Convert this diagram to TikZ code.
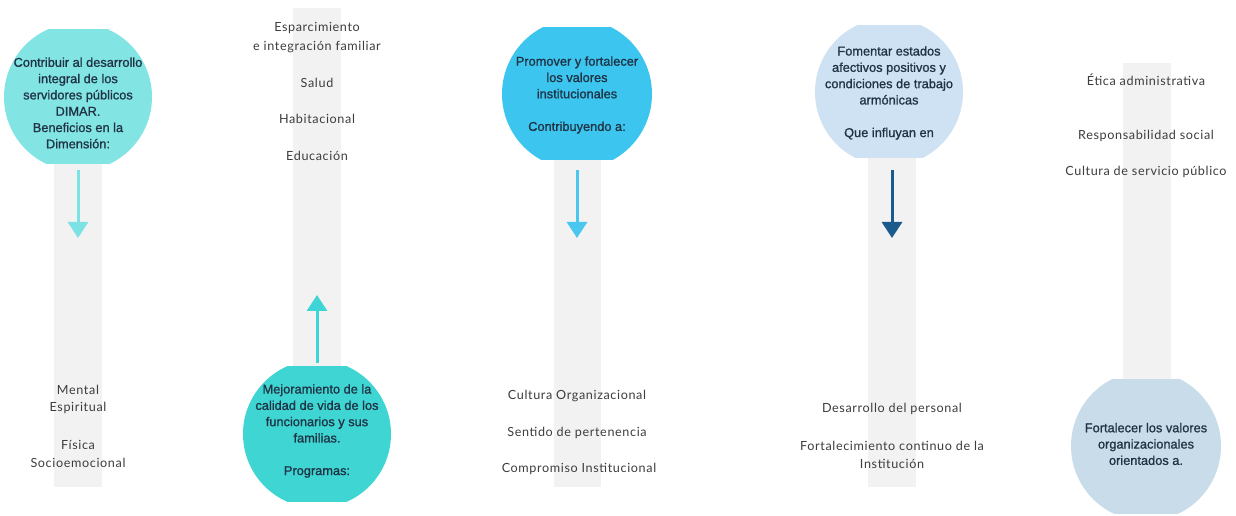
\documentclass[tikz,border=0pt]{standalone}
\usepackage{fontspec}
\usetikzlibrary{arrows.meta}
\newfontfamily\circfont[FakeBold=1]{Liberation Sans}
\newfontfamily\labfont[LetterSpace=5]{Lato}
\definecolor{cA}{HTML}{83E4E4}
\definecolor{cB}{HTML}{3ED5D3}
\definecolor{cC}{HTML}{3CC5EF}
\definecolor{cD}{HTML}{CFE2F3}
\definecolor{cE}{HTML}{C9DCEA}
\definecolor{stripgray}{HTML}{F2F2F2}
\definecolor{ctext}{HTML}{1F3344}
\definecolor{ltext}{HTML}{3D3D3D}
\definecolor{arA}{HTML}{7DE2E4}
\definecolor{arB}{HTML}{3DD5D5}
\definecolor{arC}{HTML}{4AC7EF}
\definecolor{arD}{HTML}{1B5A8C}
\tikzset{
  circtext/.style={align=center, text=ctext, font=\circfont\fontsize{12.8bp}{16.3bp}\selectfont, inner sep=0pt},
  labtext/.style={align=center, text=ltext, font=\labfont\fontsize{12.6bp}{18.5bp}\selectfont, inner sep=0pt},
  strip/.style={fill=stripgray, draw=none},
  flow/.style={line width=3bp, -{Triangle[width=20bp,length=16bp]}}
}
\begin{document}
\begin{tikzpicture}[x=1bp,y=-1bp]
\useasboundingbox (0,0) rectangle (1236,516);
\fill[white] (0,0) rectangle (1236,516);
% strips
\fill[strip] (54,160) rectangle (102,487);
\fill[strip] (293,8) rectangle (341,370);
\fill[strip] (554,157) rectangle (601,487);
\fill[strip] (868,155) rectangle (916,487);
\fill[strip] (1123,63) rectangle (1171,385);
% circles (clipped)
\begin{scope}\clip (0,30) rectangle (200,164); \fill[cA] (78,97) circle (74);\end{scope}
\begin{scope}\clip (230,367) rectangle (410,501); \fill[cB] (317,434) circle (74);\end{scope}
\begin{scope}\clip (490,28) rectangle (670,160); \fill[cC] (577,94) circle (75);\end{scope}
\begin{scope}\clip (800,26) rectangle (980,158); \fill[cD] (889,92) circle (74);\end{scope}
\begin{scope}\clip (1060,380) rectangle (1236,513); \fill[cE] (1146,446) circle (75);\end{scope}
% circle texts
\node[circtext] (t1) at (78,103) {Contribuir al desarrollo\\integral de los\\servidores públicos\\DIMAR.\\Beneficios en la\\Dimensión:};
\node[circtext] (t2) at (317,431) {Mejoramiento de la\\calidad de vida de los\\funcionarios y sus\\familias.\\[16.3bp]Programas:};
\node[circtext] (t3) at (577,95) {Promover y fortalecer\\los valores\\institucionales\\[16.3bp]Contribuyendo a:};
\node[circtext] (t4) at (889,93) {Fomentar estados\\afectivos positivos y\\condiciones de trabajo\\armónicas\\[16.3bp]Que influyan en};
\node[circtext] (t5) at (1146,444) {Fortalecer los valores\\organizacionales\\orientados a.};
% arrows
\coordinate (a1s) at (78,170); \coordinate (a1e) at (78,238);
\coordinate (a2s) at (317,363); \coordinate (a2e) at (317,295);
\coordinate (a3s) at (577,170); \coordinate (a3e) at (577,238);
\coordinate (a4s) at (892,170); \coordinate (a4e) at (892,238);
\draw[flow, arA] (a1s) -- (a1e);
\draw[flow, arB] (a2s) -- (a2e);
\draw[flow, arC] (a3s) -- (a3e);
\draw[flow, arD] (a4s) -- (a4e);
% labels column 1
\node[labtext] (l1a) at (78,390) {Mental};
\node[labtext] (l1b) at (78,408) {Espiritual};
\node[labtext] (l1c) at (78,445) {Física};
\node[labtext] (l1d) at (78,463) {Socioemocional};
% column 2
\node[labtext] (l2a) at (317,28) {Esparcimiento};
\node[labtext] (l2b) at (317,47) {e integración familiar};
\node[labtext] (l2c) at (317,83) {Salud};
\node[labtext] (l2d) at (317,119) {Habitacional};
\node[labtext] (l2e) at (317,156) {Educación};
% column 3
\node[labtext] (l3a) at (577,396) {Cultura Organizacional};
\node[labtext] (l3b) at (577,433) {Sentido de pertenencia};
\node[labtext] (l3c) at (579,469) {Compromiso Institucional};
% column 4
\node[labtext] (l4a) at (892,409) {Desarrollo del personal};
\node[labtext] (l4b) at (892,446) {Fortalecimiento continuo de la};
\node[labtext] (l4c) at (892,464) {Institución};
% column 5
\node[labtext] (l5a) at (1146,80) {Ética administrativa};
\node[labtext] (l5b) at (1146,136) {Responsabilidad social};
\node[labtext] (l5c) at (1146,172) {Cultura de servicio público};
\end{tikzpicture}
\end{document}
